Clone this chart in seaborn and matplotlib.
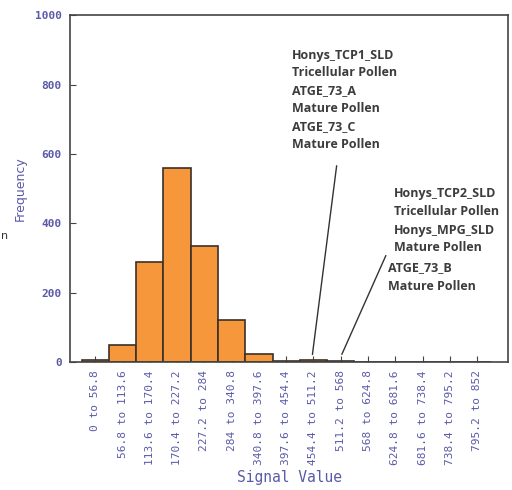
import matplotlib
matplotlib.use("Agg")
import matplotlib.pyplot as plt
import seaborn as sns
import pandas as pd

# Histogram of signal values
bins = ["0 to 56.8", "56.8 to 113.6", "113.6 to 170.4", "170.4 to 227.2",
        "227.2 to 284", "284 to 340.8", "340.8 to 397.6", "397.6 to 454.4",
        "454.4 to 511.2", "511.2 to 568", "568 to 624.8", "624.8 to 681.6",
        "681.6 to 738.4", "738.4 to 795.2", "795.2 to 852"]
counts = [6, 48, 288, 559, 334, 121, 23, 3, 6, 3, 1, 0, 0, 0, 0]

# Sample labels pointing at bins
group1_bin = "454.4 to 511.2"
group1_text = ["Honys_TCP1_SLD", "Tricellular Pollen", "ATGE_73_A",
               "Mature Pollen", "ATGE_73_C", "Mature Pollen"]
group2_bin = "511.2 to 568"
group2_text = ["Honys_TCP2_SLD", "Tricellular Pollen", "Honys_MPG_SLD",
               "Mature Pollen", "ATGE_73_B", "Mature Pollen"]

df = pd.DataFrame({"bin": bins, "count": counts})

sns.set_style("white")
blue = "#5a5aa8"
fig = plt.figure(figsize=(5.12, 4.9), dpi=100)
ax = fig.add_axes([0.137, 0.261, 0.855, 0.708])

sns.barplot(data=df, x="bin", y="count", color="#f7973c", saturation=1,
            width=1.0, edgecolor="#3a3028", linewidth=1.2, ax=ax)

ax.set_xlim(-0.92, 15.13)
ax.set_ylim(0, 1000)
ax.set_yticks([0, 200, 400, 600, 800, 1000])
ax.tick_params(axis="both", direction="in", length=4, color="#444444",
               left=True, bottom=True)
ax.tick_params(axis="y", labelsize=8, labelcolor=blue, pad=6)
ax.tick_params(axis="x", labelsize=8, labelcolor=blue, rotation=90, pad=6)
for lab in ax.get_yticklabels():
    lab.set_family("DejaVu Sans Mono")
    lab.set_fontweight("bold")
for lab in ax.get_xticklabels():
    lab.set_family("DejaVu Sans Mono")
for s in ax.spines.values():
    s.set_color("#444444")
    s.set_linewidth(1.2)

ax.set_xlabel("Signal Value", family="DejaVu Sans Mono", fontsize=10.5,
              color=blue)
ax.xaxis.set_label_coords(0.5, -0.312)
ax.set_ylabel("Frequency", fontsize=9, color=blue, labelpad=6)

# annotation blocks
ys1 = [56, 73, 91, 109, 127, 145]
for t, y in zip(group1_text, ys1):
    fig.text(292 / 512, 1 - y / 490, t, fontsize=9, fontweight="bold",
             family="Open Sans", color="#3c3c3c", va="center")
ys2 = [194, 211, 230, 247, 268, 286]
xs2 = [394, 394, 394, 394, 388, 388]
for t, y, x in zip(group2_text, ys2, xs2):
    fig.text(x / 512, 1 - y / 490, t, fontsize=9, fontweight="bold",
             family="Open Sans", color="#3c3c3c", va="center")

i1 = bins.index(group1_bin)
i2 = bins.index(group2_bin)
ax.annotate("", xy=(i1 - 0.05, counts[i1] + 8), xytext=(337 / 512, 1 - 163 / 490),
            textcoords="figure fraction",
            arrowprops=dict(arrowstyle="-", color="#333333", lw=1))
ax.annotate("", xy=(i2, counts[i2] + 12), xytext=(387 / 512, 1 - 253 / 490),
            textcoords="figure fraction",
            arrowprops=dict(arrowstyle="-", color="#333333", lw=1))

fig.text(0.002, 1 - 236 / 490, "n", fontsize=8, color="#333333", va="center")

fig.savefig("out.png", dpi=100)
